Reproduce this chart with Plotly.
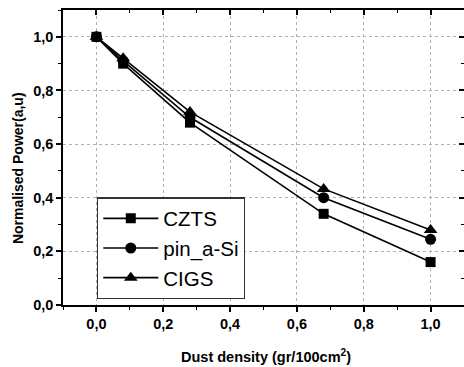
import plotly.graph_objects as go

dust = [0.0, 0.08, 0.28, 0.68, 1.0]
czts = [1.0, 0.90, 0.68, 0.34, 0.16]
pin_a_si = [1.0, 0.91, 0.70, 0.40, 0.245]
cigs = [1.0, 0.92, 0.72, 0.433, 0.28]
tick_vals = [0.0, 0.2, 0.4, 0.6, 0.8, 1.0]
tick_text = ["0,0", "0,2", "0,4", "0,6", "0,8", "1,0"]
x_title = "Dust density (gr/100cm<sup>2</sup>)"
y_title = "Normalised Power(a,u)"

fig = go.Figure()
for name, vals, sym, sz in [("CZTS", czts, "square", 10),
                            ("pin_a-Si", pin_a_si, "circle", 11),
                            ("CIGS", cigs, "triangle-up", 12)]:
    fig.add_trace(go.Scatter(x=dust, y=vals, name=name, mode="lines+markers",
                             line=dict(color="black", width=1.6),
                             marker=dict(symbol=sym, size=sz, color="black")))

# invisible trace to activate the mirrored axes
fig.add_trace(go.Scatter(x=[dust[0]], y=[czts[0]], xaxis="x2", yaxis="y2", mode="markers",
                         marker=dict(opacity=0), showlegend=False, hoverinfo="skip"))

FAM = "Liberation Sans, Arial"
axis_common = dict(showline=True, linecolor="black", linewidth=1.5, automargin=False,
                   ticks="outside", ticklen=5, tickwidth=1.5, tickcolor="black",
                   tickvals=tick_vals, ticktext=tick_text,
                   tickfont=dict(family=FAM, size=14.5, color="black", weight="bold"),
                   showgrid=True, gridcolor="#b0b0b0", griddash="dot", gridwidth=1,
                   zeroline=False,
                   minor=dict(dtick=0.1, tick0=0, ticks="outside", ticklen=3, tickwidth=1.2,
                              tickcolor="black", showgrid=False))
mirror_common = dict(showline=True, linecolor="black", linewidth=1.5, automargin=False,
                     ticks="inside", ticklen=5, tickwidth=1.5, tickcolor="black",
                     tickvals=tick_vals, showticklabels=False, showgrid=False, zeroline=False,
                     minor=dict(dtick=0.1, tick0=0, ticks="inside", ticklen=3, tickwidth=1.2,
                                tickcolor="black"))

fig.update_layout(
    width=464, height=367,
    margin=dict(l=63, r=0, t=10, b=62, autoexpand=False),
    plot_bgcolor="white", paper_bgcolor="white",
    xaxis=dict(range=[-0.1, 1.1], **axis_common),
    yaxis=dict(range=[0, 1.1], **axis_common),
    xaxis2=dict(range=[-0.1, 1.1], overlaying="x", side="top", anchor="y", **mirror_common),
    yaxis2=dict(range=[0, 1.1], overlaying="y", side="right", anchor="x", **mirror_common),
    legend=dict(x=0.085, y=0.365, xanchor="left", yanchor="top",
                bgcolor="white", bordercolor="#333333", borderwidth=1.2,
                font=dict(family=FAM, size=20.5, color="black"),
                itemwidth=55, tracegroupgap=0),
    showlegend=True,
    annotations=[
        dict(text=x_title, xref="paper", yref="paper", x=0.505, y=0, xanchor="center",
             yanchor="middle", yshift=-51, showarrow=False,
             font=dict(family=FAM, size=14.5, color="black", weight="bold")),
        dict(text=y_title, xref="paper", yref="paper", x=0, y=0.464, xanchor="center",
             yanchor="middle", xshift=-45, textangle=-90, showarrow=False,
             font=dict(family=FAM, size=14, color="black", weight="bold")),
    ],
)

fig.write_html("out.html", config={"displayModeBar": False},
               post_script="document.body.style.margin='0';document.body.style.overflow='hidden';")
